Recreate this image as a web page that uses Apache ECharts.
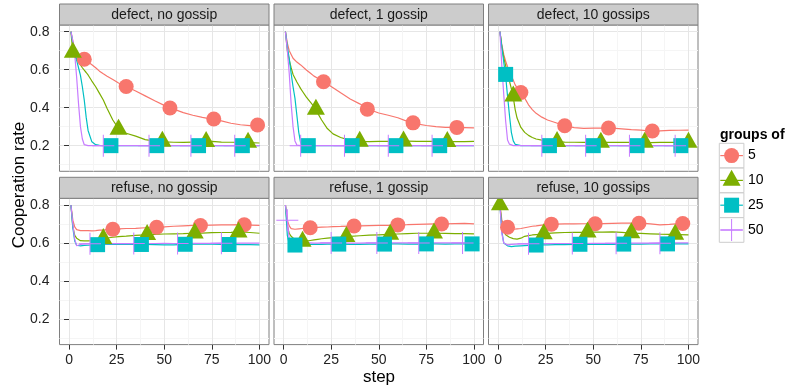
<!DOCTYPE html>
<html>
<head>
<meta charset="utf-8">
<script src="https://cdn.jsdelivr.net/npm/echarts@6/dist/echarts.min.js"></script>
<style>
  html, body { margin: 0; padding: 0; background: #fff; }
  #chart { width: 787px; height: 390px; }
</style>
</head>
<body>
<div id="chart"></div>
<script>
// simulation steps at which the curves were read
const steps = [1, 2, 3, 4, 5, 6, 7, 8, 9, 10, 12, 14, 16, 18, 20, 23, 26, 30, 35, 40, 45, 50, 55, 60, 65, 70, 75, 80, 85, 90, 95, 100];
const groupNames = ['5', '10', '25', '50'];
const panelTitles = ['defect, no gossip', 'defect, 1 gossip', 'defect, 10 gossips',
                     'refuse, no gossip', 'refuse, 1 gossip', 'refuse, 10 gossips'];
const yTicks = [0.2, 0.4, 0.6, 0.8];
const yMinorTicks = [0.1, 0.3, 0.5, 0.7];
const xTicks = [0, 25, 50, 75, 100];
const xMinorTicks = [12.5, 37.5, 62.5, 87.5];

// cooperation rate per group size (5, 10, 25, 50), one value per step
const defectNoGossipLines = [
  [0.80, 0.75, 0.71, 0.69, 0.675, 0.668, 0.66, 0.655, 0.648, 0.64, 0.626, 0.61, 0.592, 0.578, 0.565, 0.548, 0.53, 0.511, 0.488, 0.462, 0.436, 0.412, 0.392, 0.374, 0.36, 0.349, 0.34, 0.33, 0.318, 0.31, 0.305, 0.307],
  [0.80, 0.69, 0.67, 0.655, 0.64, 0.625, 0.61, 0.597, 0.585, 0.572, 0.54, 0.51, 0.475, 0.44, 0.395, 0.335, 0.29, 0.265, 0.25, 0.232, 0.224, 0.22, 0.218, 0.217, 0.219, 0.22, 0.222, 0.219, 0.218, 0.217, 0.216, 0.214],
  [0.80, 0.74, 0.69, 0.65, 0.61, 0.57, 0.51, 0.44, 0.35, 0.28, 0.22, 0.205, 0.201, 0.2, 0.2, 0.2, 0.2, 0.2, 0.2, 0.2, 0.2, 0.2, 0.2, 0.2, 0.2, 0.2, 0.2, 0.2, 0.2, 0.2, 0.2, 0.2],
  [0.80, 0.75, 0.68, 0.56, 0.42, 0.30, 0.235, 0.205, 0.2, 0.2, 0.2, 0.2, 0.2, 0.2, 0.2, 0.2, 0.2, 0.2, 0.2, 0.2, 0.2, 0.2, 0.2, 0.2, 0.2, 0.2, 0.2, 0.2, 0.2, 0.2, 0.2, 0.2]
];
const defectOneGossipLines = [
  [0.80, 0.74, 0.70, 0.68, 0.66, 0.65, 0.64, 0.632, 0.625, 0.615, 0.598, 0.582, 0.566, 0.555, 0.542, 0.525, 0.505, 0.478, 0.446, 0.42, 0.39, 0.372, 0.36, 0.347, 0.328, 0.315, 0.306, 0.3, 0.296, 0.296, 0.295, 0.294],
  [0.80, 0.70, 0.65, 0.61, 0.575, 0.555, 0.535, 0.518, 0.50, 0.485, 0.455, 0.43, 0.405, 0.37, 0.335, 0.29, 0.262, 0.243, 0.228, 0.222, 0.221, 0.222, 0.223, 0.224, 0.224, 0.223, 0.222, 0.222, 0.221, 0.221, 0.221, 0.222],
  [0.80, 0.72, 0.66, 0.58, 0.51, 0.45, 0.36, 0.27, 0.215, 0.203, 0.2, 0.2, 0.2, 0.2, 0.2, 0.2, 0.2, 0.2, 0.2, 0.2, 0.2, 0.2, 0.2, 0.2, 0.2, 0.2, 0.2, 0.2, 0.2, 0.2, 0.2, 0.2],
  [0.80, 0.70, 0.58, 0.42, 0.30, 0.225, 0.203, 0.2, 0.2, 0.2, 0.2, 0.2, 0.2, 0.2, 0.2, 0.2, 0.2, 0.2, 0.2, 0.2, 0.2, 0.2, 0.2, 0.2, 0.2, 0.2, 0.2, 0.2, 0.2, 0.2, 0.2, 0.2]
];
const defectTenGossipLines = [
  [0.80, 0.73, 0.68, 0.645, 0.615, 0.59, 0.565, 0.545, 0.52, 0.505, 0.48, 0.45, 0.415, 0.39, 0.37, 0.35, 0.335, 0.322, 0.305, 0.295, 0.291, 0.292, 0.293, 0.292, 0.288, 0.284, 0.282, 0.277, 0.278, 0.28, 0.281, 0.282],
  [0.80, 0.72, 0.665, 0.62, 0.58, 0.54, 0.50, 0.455, 0.39, 0.345, 0.296, 0.27, 0.254, 0.243, 0.235, 0.229, 0.224, 0.221, 0.219, 0.218, 0.217, 0.217, 0.218, 0.217, 0.217, 0.218, 0.217, 0.216, 0.217, 0.217, 0.217, 0.217],
  [0.80, 0.72, 0.64, 0.567, 0.46, 0.36, 0.27, 0.225, 0.207, 0.202, 0.2, 0.2, 0.2, 0.2, 0.2, 0.2, 0.2, 0.2, 0.2, 0.2, 0.2, 0.2, 0.2, 0.2, 0.2, 0.2, 0.2, 0.2, 0.2, 0.2, 0.2, 0.2],
  [0.80, 0.62, 0.47, 0.33, 0.23, 0.208, 0.202, 0.2, 0.2, 0.2, 0.2, 0.2, 0.2, 0.2, 0.2, 0.2, 0.2, 0.2, 0.2, 0.2, 0.2, 0.2, 0.2, 0.2, 0.2, 0.2, 0.2, 0.2, 0.2, 0.2, 0.2, 0.2]
];
const refuseNoGossipLines = [
  [0.80, 0.72, 0.685, 0.67, 0.667, 0.665, 0.665, 0.665, 0.665, 0.665, 0.664, 0.665, 0.667, 0.668, 0.67, 0.672, 0.674, 0.676, 0.677, 0.68, 0.683, 0.685, 0.688, 0.69, 0.692, 0.693, 0.694, 0.695, 0.695, 0.696, 0.694, 0.692],
  [0.80, 0.686, 0.64, 0.625, 0.615, 0.612, 0.611, 0.611, 0.611, 0.611, 0.612, 0.615, 0.619, 0.623, 0.626, 0.63, 0.633, 0.636, 0.64, 0.643, 0.645, 0.647, 0.648, 0.649, 0.651, 0.652, 0.654, 0.655, 0.656, 0.658, 0.655, 0.651],
  [0.80, 0.68, 0.61, 0.588, 0.585, 0.585, 0.586, 0.587, 0.588, 0.588, 0.589, 0.59, 0.591, 0.592, 0.592, 0.593, 0.593, 0.593, 0.592, 0.592, 0.591, 0.59, 0.59, 0.593, 0.594, 0.595, 0.594, 0.593, 0.592, 0.591, 0.591, 0.59],
  [0.80, 0.70, 0.62, 0.585, 0.59, 0.592, 0.594, 0.595, 0.595, 0.595, 0.596, 0.596, 0.595, 0.595, 0.596, 0.596, 0.597, 0.596, 0.596, 0.597, 0.597, 0.598, 0.597, 0.597, 0.598, 0.598, 0.598, 0.599, 0.598, 0.599, 0.599, 0.599]
];
const refuseOneGossipLines = [
  [0.80, 0.72, 0.69, 0.675, 0.672, 0.672, 0.673, 0.674, 0.675, 0.676, 0.678, 0.68, 0.681, 0.682, 0.683, 0.684, 0.686, 0.687, 0.689, 0.69, 0.691, 0.692, 0.693, 0.695, 0.696, 0.698, 0.699, 0.70, 0.70, 0.702, 0.703, 0.70],
  [0.80, 0.69, 0.65, 0.635, 0.625, 0.617, 0.612, 0.61, 0.608, 0.608, 0.61, 0.613, 0.616, 0.619, 0.622, 0.625, 0.628, 0.631, 0.635, 0.638, 0.641, 0.643, 0.645, 0.647, 0.649, 0.651, 0.651, 0.651, 0.65, 0.649, 0.649, 0.648],
  [0.80, 0.64, 0.595, 0.588, 0.588, 0.589, 0.59, 0.59, 0.591, 0.591, 0.592, 0.592, 0.593, 0.593, 0.593, 0.594, 0.594, 0.594, 0.593, 0.593, 0.594, 0.594, 0.595, 0.595, 0.594, 0.594, 0.595, 0.595, 0.594, 0.595, 0.595, 0.595],
  [0.80, 0.72, 0.62, 0.60, 0.598, 0.598, 0.599, 0.599, 0.599, 0.599, 0.60, 0.60, 0.599, 0.599, 0.60, 0.60, 0.60, 0.60, 0.599, 0.599, 0.60, 0.60, 0.60, 0.60, 0.601, 0.60, 0.60, 0.60, 0.60, 0.601, 0.60, 0.60]
];
const refuseTenGossipLines = [
  [0.80, 0.721, 0.695, 0.683, 0.683, 0.678, 0.673, 0.672, 0.673, 0.674, 0.676, 0.68, 0.684, 0.688, 0.69, 0.694, 0.698, 0.699, 0.70, 0.70, 0.701, 0.701, 0.702, 0.703, 0.704, 0.704, 0.704, 0.70, 0.695, 0.698, 0.702, 0.702],
  [0.80, 0.70, 0.665, 0.643, 0.635, 0.63, 0.626, 0.623, 0.621, 0.62, 0.625, 0.635, 0.639, 0.642, 0.644, 0.647, 0.65, 0.653, 0.655, 0.656, 0.656, 0.657, 0.657, 0.658, 0.656, 0.652, 0.65, 0.648, 0.646, 0.645, 0.644, 0.643],
  [0.80, 0.66, 0.60, 0.592, 0.585, 0.582, 0.581, 0.582, 0.583, 0.584, 0.585, 0.586, 0.587, 0.588, 0.589, 0.59, 0.59, 0.591, 0.591, 0.592, 0.592, 0.592, 0.593, 0.593, 0.594, 0.594, 0.594, 0.595, 0.595, 0.595, 0.595, 0.595],
  [0.80, 0.65, 0.60, 0.592, 0.59, 0.591, 0.592, 0.593, 0.594, 0.594, 0.595, 0.595, 0.595, 0.596, 0.596, 0.596, 0.596, 0.597, 0.597, 0.597, 0.597, 0.598, 0.598, 0.598, 0.598, 0.599, 0.599, 0.599, 0.6, 0.6, 0.6, 0.6]
];

// marker positions (step) and values, per group size
const defectNoGossipMarkSteps = [[8, 30, 53, 76, 99], [2, 26, 49, 72, 94], [22, 46, 68, 91], [18, 42, 64, 87]];
const defectNoGossipMarkValues = [[0.655, 0.511, 0.398, 0.34, 0.309], [0.69, 0.285, 0.222, 0.221, 0.217], [0.2, 0.2, 0.2, 0.2], [0.2, 0.2, 0.2, 0.2]];
const defectOneGossipMarkSteps = [[21, 44, 68, 91], [17, 40, 63, 86], [13, 36, 59, 82], [9, 32, 55, 78]];
const defectOneGossipMarkValues = [[0.536, 0.392, 0.32, 0.296], [0.39, 0.222, 0.224, 0.221], [0.2, 0.2, 0.2, 0.2], [0.2, 0.2, 0.2, 0.2]];
const defectTenGossipMarkSteps = [[12, 35, 58, 81], [8, 31, 54, 77, 100], [4, 27, 50, 73, 96], [23, 46, 69, 93]];
const defectTenGossipMarkValues = [[0.48, 0.305, 0.293, 0.277], [0.46, 0.221, 0.217, 0.217, 0.217], [0.575, 0.2, 0.2, 0.2, 0.2], [0.2, 0.2, 0.2, 0.2]];
const refuseNoGossipMarkSteps = [[23, 46, 69, 92], [18, 41, 66, 89], [15, 38, 61, 84], [11, 34, 57, 80]];
const refuseNoGossipMarkValues = [[0.672, 0.683, 0.692, 0.696], [0.623, 0.643, 0.651, 0.657], [0.591, 0.592, 0.593, 0.592], [0.596, 0.597, 0.597, 0.598]];
const refuseOneGossipMarkSteps = [[14, 37, 60, 83], [10, 33, 56, 79], [6, 29, 53, 75, 99], [2, 25, 49, 71, 94]];
const refuseOneGossipMarkValues = [[0.68, 0.689, 0.695, 0.70], [0.608, 0.633, 0.645, 0.651], [0.589, 0.594, 0.594, 0.595, 0.595], [0.72, 0.60, 0.60, 0.60, 0.60]];
const refuseTenGossipMarkSteps = [[5, 28, 51, 74, 97], [1, 24, 47, 70, 93], [20, 43, 66, 89], [16, 39, 62, 85]];
const refuseTenGossipMarkValues = [[0.683, 0.699, 0.701, 0.704, 0.702], [0.80, 0.647, 0.656, 0.652, 0.645], [0.589, 0.593, 0.594, 0.595], [0.596, 0.597, 0.598, 0.599]];

const panelLines = [defectNoGossipLines, defectOneGossipLines, defectTenGossipLines,
                    refuseNoGossipLines, refuseOneGossipLines, refuseTenGossipLines];
const panelMarkSteps = [defectNoGossipMarkSteps, defectOneGossipMarkSteps, defectTenGossipMarkSteps,
                        refuseNoGossipMarkSteps, refuseOneGossipMarkSteps, refuseTenGossipMarkSteps];
const panelMarkValues = [defectNoGossipMarkValues, defectOneGossipMarkValues, defectTenGossipMarkValues,
                         refuseNoGossipMarkValues, refuseOneGossipMarkValues, refuseTenGossipMarkValues];

const colors = ['#F8766D', '#7CAE00', '#00BFC4', '#C77CFF'];
const FONT = "'Liberation Sans', Arial, Helvetica, sans-serif";
const PLUS = 'path://M-0.045,-1H0.045V1H-0.045Z M-1,-0.045H1V0.045H-1Z';
const symbols = [
  { symbol: 'circle', size: 15, offset: [0, 0] },
  { symbol: 'triangle', size: [18, 16], offset: [0, -2.7] },
  { symbol: 'rect', size: 15, offset: [0, 0] },
  { symbol: PLUS, size: 22, offset: [0, 0] }
];

// panel layout
const colLeft = [59.5, 274, 488.5];
const colWidth = 209.5;
const rowTop = [25, 198.3];
const rowHeight = 146.3;
const stripHeight = 21;

const chart = echarts.init(document.getElementById('chart'));

const grids = [], xAxes = [], yAxes = [], series = [], graphics = [];

panelTitles.forEach((title, p) => {
  const row = Math.floor(p / 3), col = p % 3;
  grids.push({
    left: colLeft[col], top: rowTop[row], width: colWidth, height: rowHeight,
    show: true, backgroundColor: '#fff', borderColor: '#7f7f7f', borderWidth: 1
  });
  const bottomRow = row === 1, leftCol = col === 0;
  // major x
  xAxes.push({
    gridIndex: p, type: 'value', min: -5, max: 105,
    axisLine: { show: false },
    axisTick: { show: bottomRow, customValues: xTicks, length: 5, lineStyle: { color: '#333' } },
    axisLabel: { show: bottomRow, customValues: xTicks, fontSize: 14, color: '#222', fontFamily: FONT, margin: 9 },
    splitLine: { show: true, lineStyle: { color: '#e6e6e6', width: 1 } }
  });
  // minor x
  xAxes.push({
    gridIndex: p, type: 'value', min: -5, max: 105,
    axisLine: { show: false },
    axisTick: { show: false, customValues: xMinorTicks },
    axisLabel: { show: false, customValues: xMinorTicks },
    splitLine: { show: true, lineStyle: { color: '#f5f5f5', width: 1 } }
  });
  yAxes.push({
    gridIndex: p, type: 'value', min: 0.065, max: 0.835,
    axisLine: { show: false },
    axisTick: { show: leftCol, customValues: yTicks, length: 5, lineStyle: { color: '#333' } },
    axisLabel: { show: leftCol, customValues: yTicks, fontSize: 14, color: '#222', fontFamily: FONT, margin: 10 },
    splitLine: { show: true, lineStyle: { color: '#e6e6e6', width: 1 } }
  });
  yAxes.push({
    gridIndex: p, type: 'value', min: 0.065, max: 0.835,
    axisLine: { show: false },
    axisTick: { show: false, customValues: yMinorTicks },
    axisLabel: { show: false, customValues: yMinorTicks },
    splitLine: { show: true, lineStyle: { color: '#f5f5f5', width: 1 } }
  });

  const lines = panelLines[p];
  groupNames.forEach((g, k) => {
    series.push({
      name: g, type: 'line', xAxisIndex: 2 * p, yAxisIndex: 2 * p,
      data: steps.map((s, i) => [s, lines[k][i]]),
      showSymbol: false, symbol: 'none', silent: true, z: 2,
      lineStyle: { color: colors[k], width: 1.2 }
    });
  });
  groupNames.forEach((g, k) => {
    const ms = panelMarkSteps[p][k], mv = panelMarkValues[p][k];
    series.push({
      name: g, type: 'scatter', xAxisIndex: 2 * p, yAxisIndex: 2 * p,
      data: ms.map((s, i) => [s, mv[i]]),
      symbol: symbols[k].symbol, symbolSize: symbols[k].size, symbolOffset: symbols[k].offset,
      itemStyle: { color: colors[k], opacity: 1 }, silent: true, clip: true, z: 3 + k
    });
  });

  // facet strip
  graphics.push({
    type: 'rect', silent: true, z: 10,
    shape: { x: colLeft[col], y: rowTop[row] - stripHeight, width: colWidth, height: stripHeight },
    style: { fill: '#cccccc', stroke: '#7f7f7f', lineWidth: 1 }
  });
  graphics.push({
    type: 'text', silent: true, z: 11,
    x: colLeft[col] + colWidth / 2, y: rowTop[row] - stripHeight / 2 + 0.5,
    style: { text: title, fontSize: 14, fontFamily: FONT, fill: '#1a1a1a', textAlign: 'center', textVerticalAlign: 'middle' }
  });
});

// axis titles
graphics.push({
  type: 'text', silent: true, x: 379, y: 377,
  style: { text: 'step', fontSize: 17, fontFamily: FONT, fill: '#000', textAlign: 'center', textVerticalAlign: 'middle' }
});
graphics.push({
  type: 'text', silent: true, x: 19, y: 185, rotation: Math.PI / 2,
  style: { text: 'Cooperation rate', fontSize: 17, fontFamily: FONT, fill: '#000', textAlign: 'center', textVerticalAlign: 'middle' }
});

// legend
const legLeft = 719.3, legTop = 143.3, legStep = 24.8, legBox = 24.6;
graphics.push({
  type: 'text', silent: true, x: 720, y: 135,
  style: { text: 'groups of', fontSize: 14, fontWeight: 'bold', fontFamily: FONT, fill: '#000', textVerticalAlign: 'middle' }
});
groupNames.forEach((g, k) => {
  const top = legTop + k * legStep, cx = legLeft + legBox / 2, cy = top + legBox / 2;
  graphics.push({ type: 'rect', silent: true, shape: { x: legLeft, y: top, width: legBox, height: legBox },
    style: { fill: '#fff', stroke: '#cccccc', lineWidth: 1 } });
  graphics.push({ type: 'line', silent: true, shape: { x1: legLeft + 1, y1: cy, x2: legLeft + legBox - 1, y2: cy },
    style: { stroke: colors[k], lineWidth: 1.2 } });
  if (k === 0) {
    graphics.push({ type: 'circle', silent: true, shape: { cx: cx, cy: cy, r: 7.5 }, style: { fill: colors[k] } });
  } else if (k === 1) {
    graphics.push({ type: 'polygon', silent: true,
      shape: { points: [[cx, cy - 10.7], [cx + 9, cy + 5.3], [cx - 9, cy + 5.3]] }, style: { fill: colors[k] } });
  } else if (k === 2) {
    graphics.push({ type: 'rect', silent: true, shape: { x: cx - 7.5, y: cy - 7.5, width: 15, height: 15 }, style: { fill: colors[k] } });
  } else {
    graphics.push({ type: 'line', silent: true, shape: { x1: cx, y1: cy - 11, x2: cx, y2: cy + 11 }, style: { stroke: colors[k], lineWidth: 1 } });
    graphics.push({ type: 'line', silent: true, shape: { x1: cx - 11, y1: cy, x2: cx + 11, y2: cy }, style: { stroke: colors[k], lineWidth: 1 } });
  }
  graphics.push({ type: 'text', silent: true, x: legLeft + legBox + 4, y: cy,
    style: { text: g, fontSize: 14, fontFamily: FONT, fill: '#000', textVerticalAlign: 'middle' } });
});

chart.setOption({
  animation: false,
  backgroundColor: '#fff',
  grid: grids,
  xAxis: xAxes,
  yAxis: yAxes,
  series: series,
  graphic: { elements: graphics }
});

window.addEventListener('resize', () => chart.resize());
</script>
</body>
</html>
